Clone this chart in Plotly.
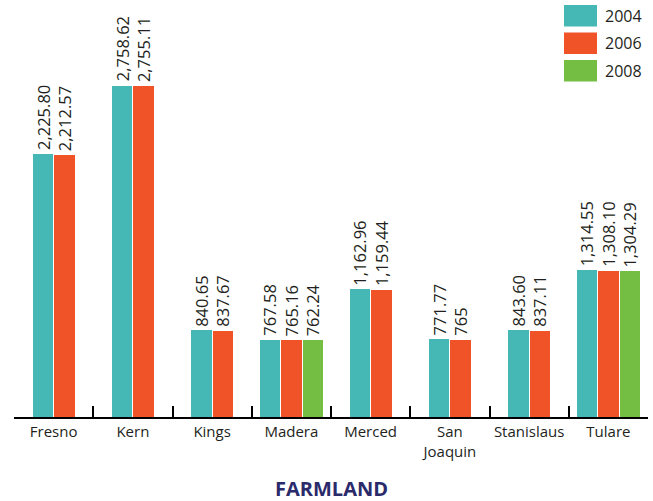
import plotly.graph_objects as go

categories = ["Fresno", "Kern", "Kings", "Madera", "Merced", "San Joaquin", "Stanislaus", "Tulare"]
tick_labels = ["Fresno", "Kern", "Kings", "Madera", "Merced", "San<br>Joaquin", "Stanislaus", "Tulare"]
years = ["2004", "2006", "2008"]
v2004 = [2225.80, 2758.62, 840.65, 767.58, 1162.96, 771.77, 843.60, 1314.55]
v2006 = [2212.57, 2755.11, 837.67, 765.16, 1159.44, 765, 837.11, 1308.10]
v2008 = [None, None, None, 762.24, None, None, None, 1304.29]
series = [v2004, v2006, v2008]
colors = ["#45B8B5", "#F05328", "#74BE44"]
title_text = "FARMLAND"

W, H = 653, 501
ML, MR, MT, MB = 14, 5, 10, 84
PW, PH = W - ML - MR, H - MT - MB
PX_PER_CAT = PW / len(categories)

# value axis window (the original graphic does not start its bars at a true zero)
Y_MIN, Y_MAX = 163, 3350

BAR_W = 0.258
GAP = 0.013


def fmt(v):
    if v is None:
        return ""
    if isinstance(v, int):
        return f"{v:,}"
    return f"{v:,.2f}"


present = [[s[i] is not None for s in series] for i in range(len(categories))]
offsets = [[0.0] * len(categories) for _ in series]
for i in range(len(categories)):
    n = sum(present[i])
    total = n * BAR_W + (n - 1) * GAP
    k = 0
    for j in range(len(series)):
        if present[i][j]:
            offsets[j][i] = -total / 2 + k * (BAR_W + GAP)
            k += 1

fig = go.Figure()
annotations = []
for j, (yr, vals) in enumerate(zip(years, series)):
    fig.add_trace(go.Bar(
        x=categories, y=vals, name=yr,
        offset=offsets[j], width=[BAR_W] * len(categories),
        marker=dict(color=colors[j], line=dict(width=0)),
        showlegend=False, hoverinfo="x+y",
    ))
    for i, v in enumerate(vals):
        if v is None:
            continue
        annotations.append(dict(
            x=categories[i], y=v, xref="x", yref="y",
            xshift=(offsets[j][i] + BAR_W / 2) * PX_PER_CAT, yshift=2,
            text=fmt(v), textangle=-90, showarrow=False,
            xanchor="center", yanchor="bottom",
            font=dict(family="Open Sans", size=16.5, color="#231F20"),
        ))


def px_x(x):
    return (x - ML) / PW


def px_y(y):
    return (H - MB - y) / PH


shapes = []
for j, yr in enumerate(years):
    y0 = 5 + j * 27.5
    shapes.append(dict(type="rect", xref="paper", yref="paper",
                       x0=px_x(564), x1=px_x(597), y0=px_y(y0 + 21.5), y1=px_y(y0),
                       fillcolor=colors[j], line=dict(width=0)))
    annotations.append(dict(xref="paper", yref="paper", x=px_x(603), y=px_y(y0 + 11),
                            xanchor="left", yanchor="middle", text=yr, showarrow=False,
                            font=dict(family="Open Sans", size=16, color="#231F20")))

annotations.append(dict(xref="paper", yref="paper", x=px_x(331), y=px_y(489),
                        xanchor="center", yanchor="middle", text=f"<b>{title_text}</b>",
                        showarrow=False,
                        font=dict(family="Open Sans", size=20, color="#2B2A6B")))

fig.update_layout(
    width=W, height=H, margin=dict(l=ML, r=MR, t=MT, b=MB),
    paper_bgcolor="white", plot_bgcolor="white",
    barmode="overlay", bargap=0,
    shapes=shapes, annotations=annotations,
    xaxis=dict(type="category", range=[-0.5, len(categories) - 0.5],
               tickvals=categories, ticktext=tick_labels, tickson="boundaries",
               tickangle=0,
               ticks="inside", ticklen=11, tickwidth=2, tickcolor="black",
               showline=True, linecolor="black", linewidth=2, showgrid=False,
               tickfont=dict(family="Open Sans", size=15, color="#231F20")),
    yaxis=dict(range=[Y_MIN, Y_MAX], visible=False, showgrid=False, zeroline=False),
)

fig.write_html("out.html")
